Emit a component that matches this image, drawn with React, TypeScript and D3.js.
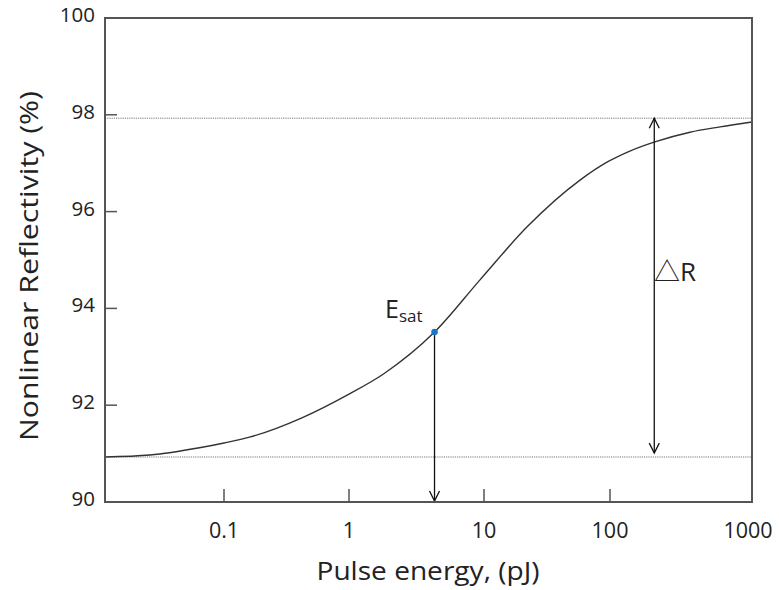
import React from 'react';
import * as d3 from 'd3';

// Axis ticks
const energyTicks = [0.1, 1, 10, 100, 1000];
const energyTickLabels = ['0.1', '1', '10', '100', '1000'];
const reflTicks = [90, 92, 94, 96, 98, 100];
const reflTickLabels = ['90', '92', '94', '96', '98', '100'];

// Reflectivity curve: pulse energy (pJ) and reflectivity (%)
const curveEnergy = [0.0115, 0.026, 0.064, 0.1, 0.16, 0.42, 1, 1.79, 4.3, 9.34, 21.9, 57.8, 94.6, 138, 207, 366, 596, 1000];
const curveRefl = [90.93, 90.97, 91.12, 91.22, 91.34, 91.74, 92.23, 92.64, 93.51, 94.59, 95.68, 96.65, 97.02, 97.25, 97.44, 97.64, 97.75, 97.85];

// Saturation point and modulation depth markers
const esatEnergy = 4.3;
const esatRefl = 93.51;
const saturatedRefl = 97.93;
const linearRefl = 90.93;
const deltaREnergy = 205;
const deltaRBottom = 91.01;

const W = 779;
const H = 590;
const left = 105;
const right = 752;
const top = 18;
const bottom = 502;
const font = '"Open Sans", "Noto Sans", "Noto Sans CJK KR", sans-serif';

export default function App() {
  const x = d3
    .scaleLog()
    .domain([0.0115, 0.1, 1, 10, 100, 1000])
    .range([left, 224, 349, 484, 610, right]);
  const y = d3.scaleLinear().domain([90, 100]).range([bottom, top]);

  const pts: [number, number][] = curveEnergy.map((e, i) => [x(e), y(curveRefl[i])]);
  const line = d3.line().curve(d3.curveMonotoneX)(pts) || '';

  const head = 5;
  const headLen = 10;
  const ex = x(esatEnergy);
  const ey = y(esatRefl);
  const dx = x(deltaREnergy);
  const dTop = y(saturatedRefl);
  const dBot = y(deltaRBottom);

  return (
    <svg
      width={W}
      height={H}
      style={{ position: 'absolute', left: 0, top: 0, background: '#fff' }}
      fontFamily={font}
    >
      <rect x={0} y={0} width={W} height={H} fill="#fff" />

      {/* reference levels */}
      {[saturatedRefl, linearRefl].map((r, i) => (
        <line
          key={i}
          x1={left}
          x2={right}
          y1={y(r)}
          y2={y(r)}
          stroke="#777"
          strokeWidth={1}
          strokeDasharray="1.2,1"
        />
      ))}

      {/* reflectivity curve */}
      <path d={line} fill="none" stroke="#333" strokeWidth={1.4} />

      {/* E_sat drop arrow */}
      <line x1={ex} x2={ex} y1={ey} y2={bottom - 1} stroke="#111" strokeWidth={1.3} />
      <path
        d={`M${ex - head},${bottom - 1 - headLen} L${ex},${bottom - 1} L${ex + head},${bottom - 1 - headLen}`}
        fill="none"
        stroke="#111"
        strokeWidth={1.3}
      />
      <circle cx={ex} cy={ey} r={3.3} fill="#1b75c4" />

      {/* ΔR double arrow */}
      <line x1={dx} x2={dx} y1={dTop} y2={dBot} stroke="#111" strokeWidth={1.3} />
      <path
        d={`M${dx - head},${dTop + headLen} L${dx},${dTop} L${dx + head},${dTop + headLen}`}
        fill="none"
        stroke="#111"
        strokeWidth={1.3}
      />
      <path
        d={`M${dx - head},${dBot - headLen} L${dx},${dBot} L${dx + head},${dBot - headLen}`}
        fill="none"
        stroke="#111"
        strokeWidth={1.3}
      />

      {/* frame */}
      <rect x={left} y={top} width={right - left} height={bottom - top} fill="none" stroke="#555" strokeWidth={2} />

      {/* ticks */}
      {energyTicks.map((t, i) => (
        <g key={`xt${i}`}>
          {t < 1000 && (
            <line x1={x(t)} x2={x(t)} y1={bottom} y2={bottom - 13} stroke="#555" strokeWidth={1.5} />
          )}
          <text x={x(t) - (t === 1000 ? 4 : 0)} y={538} textAnchor="middle" fontSize={21.5} fill="#222">
            {energyTickLabels[i]}
          </text>
        </g>
      ))}
      {reflTicks.map((t, i) => (
        <g key={`yt${i}`}>
          {t > 90 && t < 100 && (
            <line x1={left} x2={left + 12} y1={y(t)} y2={y(t)} stroke="#555" strokeWidth={1.5} />
          )}
          <text x={95} y={y(t) + 4} textAnchor="end" fontSize={20.5} fill="#222">
            {reflTickLabels[i]}
          </text>
        </g>
      ))}

      {/* annotations */}
      <text x={385} y={318} fontSize={25} fill="#222">
        E
        <tspan fontSize={17} dy={4}>sat</tspan>
      </text>
      <text x={654} y={281} fontSize={26} fill="#222">
        △R
      </text>

      {/* axis titles */}
      <text
        x={428}
        y={580}
        textAnchor="middle"
        fontSize={26}
        fill="#222"
        textLength={223}
        lengthAdjust="spacingAndGlyphs"
      >
        Pulse energy, (pJ)
      </text>
      <text
        transform={`translate(38, 266) rotate(-90)`}
        textAnchor="middle"
        fontSize={25}
        fill="#222"
        textLength={350}
        lengthAdjust="spacingAndGlyphs"
      >
        Nonlinear Reflectivity (%)
      </text>
    </svg>
  );
}
